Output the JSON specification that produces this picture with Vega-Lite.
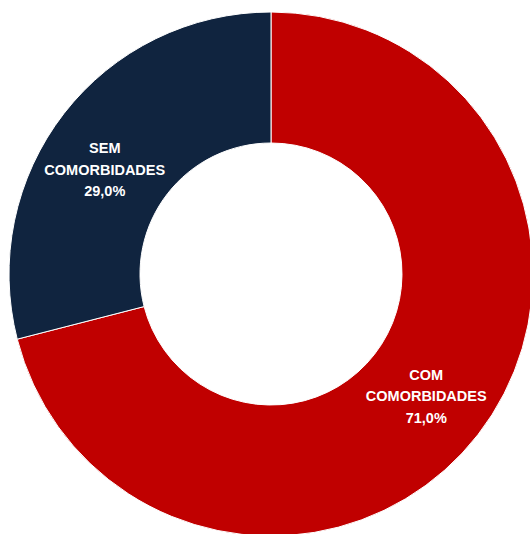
{
  "$schema": "https://vega.github.io/schema/vega-lite/v6.json",
  "width": 518,
  "height": 520,
  "padding": {"left": 12, "top": 14, "right": 0, "bottom": 0},
  "autosize": {"type": "none"},
  "background": "white",
  "view": {"stroke": null},
  "data": {
    "values": [
      {"categoria": "COM COMORBIDADES", "valor": 71.0, "ordem": 1, "rotulo": "COM|COMORBIDADES|71,0%"},
      {"categoria": "SEM COMORBIDADES", "valor": 29.0, "ordem": 2, "rotulo": "SEM|COMORBIDADES|29,0%"}
    ]
  },
  "encoding": {
    "theta": {"field": "valor", "type": "quantitative", "stack": true},
    "order": {"field": "ordem", "type": "quantitative"}
  },
  "layer": [
    {
      "mark": {"type": "arc", "radius": 262, "radius2": 131, "stroke": "white", "strokeWidth": 1},
      "encoding": {
        "color": {
          "field": "categoria",
          "type": "nominal",
          "scale": {"domain": ["COM COMORBIDADES", "SEM COMORBIDADES"], "range": ["#C00000", "#10243F"]},
          "legend": null
        }
      }
    },
    {
      "mark": {
        "type": "text",
        "radius": 199,
        "dx": -2,
        "dy": -20,
        "font": "Liberation Sans",
        "fontWeight": "bold",
        "fontSize": 14.5,
        "fill": "white",
        "align": "center",
        "baseline": "middle",
        "lineBreak": "|",
        "lineHeight": 21.5
      },
      "encoding": {
        "text": {"field": "rotulo", "type": "nominal"},
        "opacity": {
          "condition": {"test": "datum.ordem === 1", "value": 1},
          "value": 0
        }
      }
    },
    {
      "mark": {
        "type": "text",
        "radius": 199,
        "dx": -9,
        "dy": -3,
        "font": "Liberation Sans",
        "fontWeight": "bold",
        "fontSize": 14.5,
        "fill": "white",
        "align": "center",
        "baseline": "middle",
        "lineBreak": "|",
        "lineHeight": 21.5
      },
      "encoding": {
        "text": {"field": "rotulo", "type": "nominal"},
        "opacity": {
          "condition": {"test": "datum.ordem === 2", "value": 1},
          "value": 0
        }
      }
    }
  ]
}
